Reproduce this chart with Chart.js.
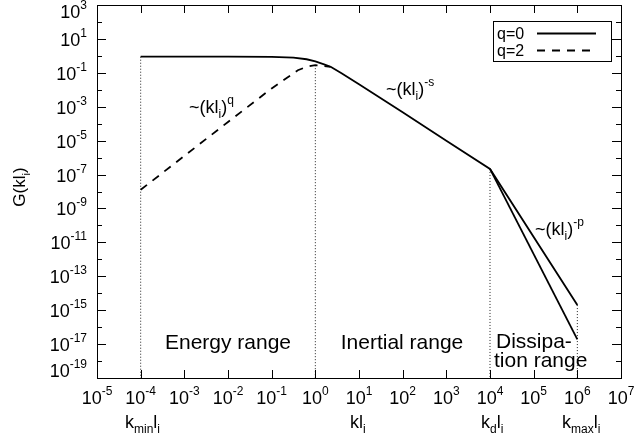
<!DOCTYPE html>
<html>
<head>
<meta charset="utf-8">
<script src="https://cdn.jsdelivr.net/npm/chart.js@4.4.1/dist/chart.umd.min.js"></script>
<style>
  body { margin: 0; background: #fff; }
  #wrap { width: 636px; height: 446px; }
</style>
</head>
<body>
<div id="wrap"><canvas id="chart" width="636" height="446"></canvas></div>
<script>
// values (kl_i on x, G(kl_i) on y)
var kSolid = [1e-4, 1e-2, 0.1, 0.316, 0.631, 1, 1.585, 2.24, 3.98, 10, 100, 1000, 1e4, 1e6];
var gSolid = [0.891, 0.891, 0.871, 0.794, 0.631, 0.468, 0.316, 0.229, 0.0955, 0.0214, 4.68e-4, 1e-5, 2.14e-7, 2.0e-15];
var kSteep = [1e4, 1e6];
var gSteep = [2.14e-7, 1.9e-17];
var kDashed = [1e-4, 1e-3, 1e-2, 0.1, 0.2, 0.398, 0.631, 1, 1.259, 1.585, 2.24];
var gDashed = [1.26e-8, 1.26e-6, 1.26e-4, 0.012, 0.0417, 0.141, 0.229, 0.282, 0.275, 0.251, 0.224];

// dotted range markers: position and where they start
var markK = [1e-4, 1, 1e4, 1e6];
var markTop = [0.891, 0.282, 2.14e-7, 2.0e-15];

var xTickExps = [-5, -4, -3, -2, -1, 0, 1, 2, 3, 4, 5, 6, 7];
var yTickExps = [3, 1, -1, -3, -5, -7, -9, -11, -13, -15, -17, -19];
var yMinorExps = [2, 0, -2, -4, -6, -8, -10, -12, -14, -16, -18];

var FONT = '"Liberation Sans", Arial, sans-serif';

function pts(xs, ys) {
    return xs.map(function(x, i) { return { x: x, y: ys[i] }; });
}

// text with sub/superscripts: parts = [[text, mode]], mode 1 = sup, -1 = sub
function rich(ctx, parts, x, y, align, size) {
    var small = Math.round(size * 0.65);
    var w = 0;
    parts.forEach(function(p) {
        ctx.font = (p[1] ? small : size) + 'px ' + FONT;
        p.w = ctx.measureText(p[0]).width;
        w += p.w;
    });
    var cx = align === 'center' ? x - w / 2 : (align === 'right' ? x - w : x);
    ctx.textAlign = 'left';
    ctx.textBaseline = 'alphabetic';
    parts.forEach(function(p) {
        ctx.font = (p[1] ? small : size) + 'px ' + FONT;
        var dy = p[1] === 1 ? -size * 0.5 : (p[1] === -1 ? size * 0.27 : 0);
        ctx.fillText(p[0], cx, y + dy);
        cx += p.w;
    });
}

var datasets = [];
markK.forEach(function(k, i) {
    datasets.push({
        data: pts([k, k], [markTop[i], 1e-19]),
        borderColor: '#222', borderWidth: 1, borderDash: [1, 2], order: 10
    });
});
datasets.push({ label: 'q=0', data: pts(kSolid, gSolid), borderColor: '#000', borderWidth: 1.8, order: 1 });
datasets.push({ data: pts(kSteep, gSteep), borderColor: '#000', borderWidth: 1.8, order: 1 });
datasets.push({ label: 'q=2', data: pts(kDashed, gDashed), borderColor: '#000', borderWidth: 1.8, borderDash: [8, 7], order: 1 });

var decorations = {
    id: 'decorations',
    afterDraw: function(chart) {
        var ctx = chart.ctx;
        var a = chart.chartArea;
        var xs = chart.scales.x, ys = chart.scales.y;
        ctx.save();
        ctx.fillStyle = '#000';
        ctx.strokeStyle = '#000';
        ctx.lineWidth = 1;
        ctx.setLineDash([]);

        // frame
        ctx.strokeRect(Math.round(a.left) + 0.5, Math.round(a.top) + 0.5,
            Math.round(a.right - a.left), Math.round(a.bottom - a.top));

        // inward ticks
        ctx.beginPath();
        xTickExps.forEach(function(e) {
            var px = Math.round(xs.getPixelForValue(Math.pow(10, e))) + 0.5;
            ctx.moveTo(px, a.bottom); ctx.lineTo(px, a.bottom - 8);
            ctx.moveTo(px, a.top); ctx.lineTo(px, a.top + 8);
        });
        yTickExps.concat(yMinorExps).forEach(function(e) {
            var len = yTickExps.indexOf(e) >= 0 ? 9 : 5;
            var py = Math.round(ys.getPixelForValue(Math.pow(10, e))) + 0.5;
            ctx.moveTo(a.left, py); ctx.lineTo(a.left + len, py);
            ctx.moveTo(a.right, py); ctx.lineTo(a.right - len, py);
        });
        ctx.stroke();

        // tick labels
        xTickExps.forEach(function(e) {
            var px = xs.getPixelForValue(Math.pow(10, e));
            rich(ctx, [['10', 0], [String(e), 1]], px, 404, 'center', 18);
        });
        yTickExps.forEach(function(e) {
            var py = ys.getPixelForValue(Math.pow(10, e));
            var base = Math.min(Math.max(py + 7, 18), 377);
            rich(ctx, [['10', 0], [String(e), 1]], 87, base, 'right', 18);
        });

        // second row of x labels
        rich(ctx, [['k', 0], ['min', -1], ['l', 0], ['i', -1]], 125, 428, 'left', 18);
        rich(ctx, [['kl', 0], ['i', -1]], 350, 428, 'left', 18);
        rich(ctx, [['k', 0], ['d', -1], ['l', 0], ['i', -1]], 481, 428, 'left', 18);
        rich(ctx, [['k', 0], ['max', -1], ['l', 0], ['i', -1]], 562, 428, 'left', 18);

        // y title
        ctx.save();
        ctx.translate(19, 187);
        ctx.rotate(-Math.PI / 2);
        rich(ctx, [['G(kl', 0], ['i', -1], [')', 0]], 0, 6, 'center', 17);
        ctx.restore();

        // slope labels
        rich(ctx, [['~(kl', 0], ['i', -1], [')', 0], ['q', 1]], 189, 113, 'left', 18);
        rich(ctx, [['~(kl', 0], ['i', -1], [')', 0], ['-s', 1]], 386, 95, 'left', 18);
        rich(ctx, [['~(kl', 0], ['i', -1], [')', 0], ['-p', 1]], 535, 235, 'left', 18);

        // range labels
        rich(ctx, [['Energy range', 0]], 228, 349, 'center', 21);
        rich(ctx, [['Inertial range', 0]], 402, 349, 'center', 21);
        rich(ctx, [['Dissipa-', 0]], 496, 348, 'left', 21);
        rich(ctx, [['tion range', 0]], 494, 367, 'left', 21);

        // legend
        ctx.lineWidth = 1;
        ctx.strokeRect(493.5, 21.5, 118, 40);
        rich(ctx, [['q=0', 0]], 497, 39, 'left', 16);
        rich(ctx, [['q=2', 0]], 497, 56, 'left', 16);
        ctx.lineWidth = 1.8;
        ctx.beginPath(); ctx.moveTo(537, 33.5); ctx.lineTo(596, 33.5); ctx.stroke();
        ctx.setLineDash([8, 7]);
        ctx.beginPath(); ctx.moveTo(537, 50.5); ctx.lineTo(596, 50.5); ctx.stroke();
        ctx.restore();
    }
};

new Chart(document.getElementById('chart'), {
    type: 'line',
    data: { datasets: datasets },
    options: {
        responsive: false,
        animation: false,
        layout: { padding: { left: 97, right: 15, top: 5, bottom: 68 } },
        elements: { point: { radius: 0 }, line: { tension: 0, fill: false } },
        plugins: { legend: { display: false }, tooltip: { enabled: false } },
        scales: {
            x: { type: 'logarithmic', min: 1e-5, max: 1e7, display: false },
            y: { type: 'logarithmic', min: 1e-19, max: 1e3, display: false }
        }
    },
    plugins: [decorations]
});
</script>
</body>
</html>
